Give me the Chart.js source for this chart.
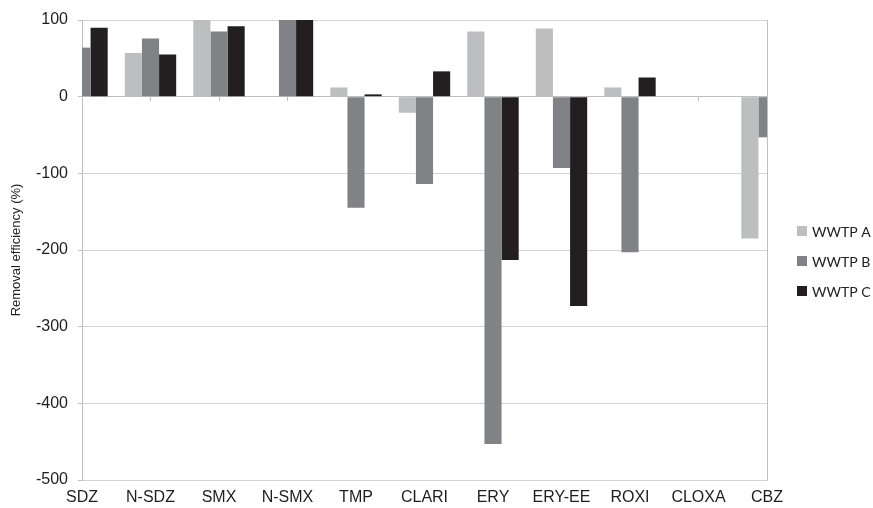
<!DOCTYPE html>
<html>
<head>
<meta charset="utf-8">
<script src="https://cdn.jsdelivr.net/npm/chart.js@4/dist/chart.umd.min.js"></script>
<style>
  html, body { margin: 0; padding: 0; background: #ffffff; }
  #wrap { width: 873px; height: 508px; position: relative; }
</style>
</head>
<body>
<div id="wrap"><canvas id="chart" width="873" height="508"></canvas></div>
<script>
// Compounds on the category axis
const compounds = ['SDZ', 'N-SDZ', 'SMX', 'N-SMX', 'TMP', 'CLARI', 'ERY', 'ERY-EE', 'ROXI', 'CLOXA', 'CBZ'];

// Removal efficiency (%) per treatment plant
const wwtpA = [null, 57, 100, null, 12, -21, 85, 89, 12, null, -185];
const wwtpB = [64, 76, 85, 100, -145, -114, -453, -93, -203, null, -53];
const wwtpC = [90, 55, 92, 100, 3, 33, -213, -273, 25, null, null];

const seriesNames = ['WWTP A', 'WWTP B', 'WWTP C'];
const seriesColors = ['#bcbec0', '#808285', '#231f20'];

// Value axis range and steps
const yMin = -500;
const yMax = 100;
const yStep = 100;

const axisFont = { family: "'Liberation Sans', Arial, sans-serif", size: 16 };
const gridGray = '#d4d4d4';
const axisGray = '#bfbfbf';

// Legend drawn to the right of the plot area
const sideLegend = {
  id: 'sideLegend',
  afterDraw(chart) {
    const { ctx, chartArea } = chart;
    const x = chartArea.right + 30;
    const rowGap = 30;
    const midY = 261;
    const n = chart.data.datasets.length;
    ctx.save();
    ctx.font = "14px Lato, 'Open Sans', sans-serif";
    ctx.textBaseline = 'middle';
    ctx.textAlign = 'left';
    chart.data.datasets.forEach((ds, i) => {
      const y = midY + (i - (n - 1) / 2) * rowGap;
      ctx.fillStyle = ds.backgroundColor;
      ctx.fillRect(x, y - 5, 10, 10);
      ctx.fillStyle = '#222222';
      ctx.fillText(ds.label, x + 15, y + 1);
    });
    ctx.restore();
  }
};

const datasets = [wwtpA, wwtpB, wwtpC].map((vals, i) => ({
  label: seriesNames[i],
  data: vals,
  backgroundColor: seriesColors[i],
  borderWidth: 0,
  categoryPercentage: 0.75,
  barPercentage: 1.0,
  clip: 0,
  xAxisID: 'x',
  yAxisID: 'y'
}));

new Chart(document.getElementById('chart'), {
  type: 'bar',
  data: { labels: compounds, datasets },
  plugins: [sideLegend],
  options: {
    responsive: false,
    animation: false,
    layout: { padding: { top: 20, right: 106, bottom: 0, left: 0 } },
    plugins: {
      legend: { display: false },
      tooltip: { enabled: false }
    },
    scales: {
      // axis line crossing at zero, with tick marks at each category
      x: {
        type: 'category',
        offset: false,
        position: { y: 0 },
        ticks: { display: false },
        grid: {
          offset: false,
          drawOnChartArea: false,
          drawTicks: true,
          tickLength: 4,
          tickColor: axisGray,
          color: axisGray
        },
        border: { display: true, color: axisGray, width: 1 }
      },
      // category labels along the bottom edge
      xLabels: {
        type: 'category',
        labels: compounds,
        offset: false,
        position: 'bottom',
        grid: { display: false, drawTicks: false },
        border: { display: false },
        ticks: {
          font: axisFont,
          color: '#1e1e1e',
          padding: 8,
          maxRotation: 0,
          autoSkip: false
        },
        afterFit(scale) { scale.height = 28; }
      },
      y: {
        min: yMin,
        max: yMax,
        ticks: {
          stepSize: yStep,
          font: axisFont,
          color: '#1e1e1e',
          padding: 10
        },
        grid: {
          color: gridGray,
          tickColor: axisGray,
          tickLength: 4,
          lineWidth: 1
        },
        border: { display: true, color: axisGray, width: 1 },
        title: {
          display: true,
          text: 'Removal efficiency (%)',
          font: { family: "'Liberation Sans', Arial, sans-serif", size: 13 },
          color: '#1e1e1e',
          padding: { top: 9, bottom: 0 }
        },
        afterFit(scale) { scale.width = 82; }
      },
      // right-hand frame of the plot area
      yFrame: {
        position: 'right',
        min: yMin,
        max: yMax,
        ticks: { display: false },
        grid: { display: false, drawTicks: false },
        border: { display: true, color: axisGray, width: 1 },
        afterFit(scale) { scale.width = 0; }
      }
    }
  }
});
</script>
</body>
</html>
